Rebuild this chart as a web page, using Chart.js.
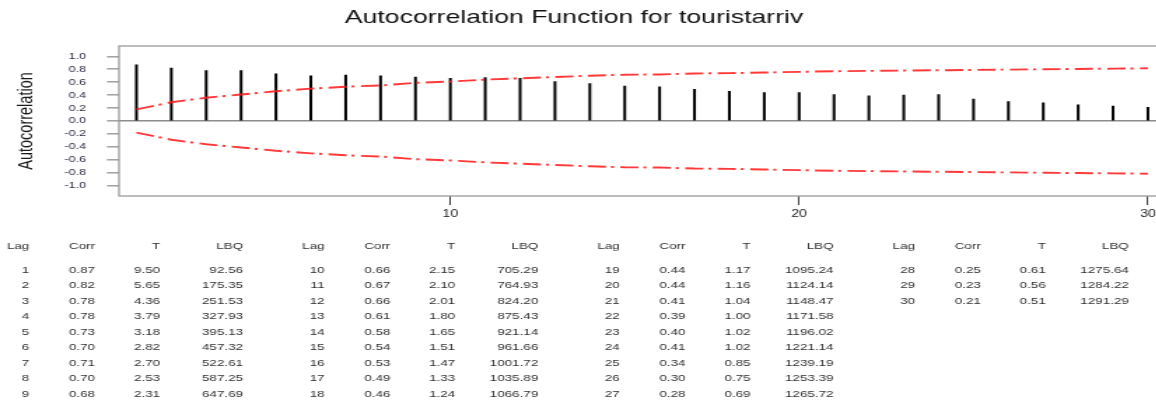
<!doctype html>
<html lang="en">
<head>
<meta charset="utf-8">
<title>Autocorrelation Function for touristarriv</title>
<script src="https://cdn.jsdelivr.net/npm/chart.js@4.4.1/dist/chart.umd.min.js"></script>
<style>
  html, body { margin: 0; padding: 0; background: #fff; overflow: hidden; }
  /* the Minitab export is stretched sideways, so the canvas is too */
  #acf { display: block; transform: scaleX(1.4); transform-origin: 0 0; }
</style>
</head>
<body>
<canvas id="acf" width="834" height="404"></canvas>
<script>
const titleText = 'Autocorrelation Function for touristarriv';

const lags = [1, 2, 3, 4, 5, 6, 7, 8, 9, 10, 11, 12, 13, 14, 15,
              16, 17, 18, 19, 20, 21, 22, 23, 24, 25, 26, 27, 28, 29, 30];
const corr = [0.87, 0.82, 0.78, 0.78, 0.73, 0.70, 0.71, 0.70, 0.68, 0.66,
              0.67, 0.66, 0.61, 0.58, 0.54, 0.53, 0.49, 0.46, 0.44, 0.44,
              0.41, 0.39, 0.40, 0.41, 0.34, 0.30, 0.28, 0.25, 0.23, 0.21];
const tStat = [9.50, 5.65, 4.36, 3.79, 3.18, 2.82, 2.70, 2.53, 2.31, 2.15,
               2.10, 2.01, 1.80, 1.65, 1.51, 1.47, 1.33, 1.24, 1.17, 1.16,
               1.04, 1.00, 1.02, 1.02, 0.85, 0.75, 0.69, 0.61, 0.56, 0.51];
const lbq = [92.56, 175.35, 251.53, 327.93, 395.13, 457.32, 522.61, 587.25, 647.69, 705.29,
             764.93, 824.20, 875.43, 921.14, 961.66, 1001.72, 1035.89, 1066.79, 1095.24, 1124.14,
             1148.47, 1171.58, 1196.02, 1221.14, 1239.19, 1253.39, 1265.72, 1275.64, 1284.22, 1291.29];
// 5% significance limits (upper; the lower one is the mirror image)
const limits = [0.18, 0.29, 0.36, 0.41, 0.46, 0.50, 0.53, 0.55, 0.59, 0.61,
                0.64, 0.66, 0.68, 0.70, 0.715, 0.72, 0.735, 0.74, 0.75, 0.76,
                0.77, 0.775, 0.78, 0.785, 0.79, 0.795, 0.80, 0.805, 0.81, 0.815];

const xTicks = [10, 20, 30];
const yTicks = [-1.0, -0.8, -0.6, -0.4, -0.2, 0.0, 0.2, 0.4, 0.6, 0.8, 1.0];
const tableHeaders = ['Lag', 'Corr', 'T', 'LBQ'];

const fontFamily = '"Liberation Sans", Arial, sans-serif';
Chart.defaults.font.family = fontFamily;

// box round the plot, title and the Lag/Corr/T/LBQ table underneath
const acfExtras = {
  id: 'acfExtras',
  afterDraw(chart) {
    const { ctx, chartArea: a } = chart;
    ctx.save();
    ctx.strokeStyle = '#9a9a9a';
    ctx.lineWidth = 1.3;
    ctx.strokeRect(a.left, a.top, a.right - a.left, a.bottom - a.top);

    ctx.fillStyle = '#111';
    ctx.font = '19px ' + fontFamily;
    ctx.textAlign = 'center';
    ctx.textBaseline = 'alphabetic';
    ctx.fillText(titleText, 410, 23);

    const colRight = [20.9, 67.9, 114.3, 173.6];
    const blockStep = 210.9;
    const perBlock = 9;
    ctx.font = '9.6px ' + fontFamily;
    ctx.fillStyle = '#303030';
    ctx.textAlign = 'right';
    ctx.textBaseline = 'middle';
    const blocks = Math.ceil(lags.length / perBlock);
    for (let b = 0; b < blocks; b++) {
      tableHeaders.forEach((h, j) => ctx.fillText(h, b * blockStep + colRight[j], 246));
    }
    lags.forEach((lag, i) => {
      const b = Math.floor(i / perBlock);
      const y = 270 + (i % perBlock) * 15.5;
      const cells = [String(lag), corr[i].toFixed(2), tStat[i].toFixed(2), lbq[i].toFixed(2)];
      cells.forEach((c, j) => ctx.fillText(c, b * blockStep + colRight[j], y));
    });
    ctx.restore();
  }
};

const limitLine = sign => ({
  type: 'line',
  data: lags.map((l, i) => ({ x: l, y: sign * limits[i] })),
  borderColor: 'rgba(255, 30, 30, 0.88)',
  borderWidth: 1.9,
  borderDash: [13, 3.5, 2.2, 4.5],
  pointRadius: 0,
  tension: 0,
  fill: false,
  order: 1
});

new Chart(document.getElementById('acf'), {
  type: 'bar',
  data: {
    datasets: [
      {
        type: 'bar',
        data: lags.map((l, i) => ({ x: l, y: corr[i] })),
        backgroundColor: '#000',
        barThickness: 1.35,
        order: 2
      },
      limitLine(1),
      limitLine(-1)
    ]
  },
  options: {
    responsive: false,
    animation: false,
    devicePixelRatio: 1,
    layout: { padding: { top: 46, right: 1.6, bottom: 0, left: 0 } },
    plugins: { legend: { display: false }, tooltip: { enabled: false } },
    scales: {
      x: {
        type: 'linear',
        min: 0.5,
        max: 30.5,
        offset: false,
        afterBuildTicks: s => { s.ticks = xTicks.map(v => ({ value: v })); },
        afterFit: s => { s.height = 208; },
        grid: { drawOnChartArea: false, offset: false, tickLength: 9, tickColor: '#222', tickWidth: 0.9 },
        border: { display: false },
        ticks: { font: { size: 10 }, color: '#222', padding: 3, maxRotation: 0 }
      },
      y: {
        min: -1.16,
        max: 1.16,
        afterBuildTicks: s => { s.ticks = yTicks.map(v => ({ value: v })); },
        afterFit: s => { s.width = 85; },
        grid: {
          color: c => (c.tick && c.tick.value === 0 ? '#8c8c8c' : 'rgba(0,0,0,0)'),
          lineWidth: 1.6,
          tickColor: '#9a9a9a',
          tickLength: 8.6,
          tickWidth: 1.4
        },
        border: { display: false },
        ticks: { font: { size: 9 }, color: '#2e2e44', padding: 15, callback: v => v.toFixed(1) },
        title: {
          display: true,
          text: 'Autocorrelation',
          font: { size: 14.5 },
          color: '#1a1a1a',
          padding: { top: 10.6, bottom: 0 }
        }
      }
    }
  },
  plugins: [acfExtras]
});
</script>
</body>
</html>
